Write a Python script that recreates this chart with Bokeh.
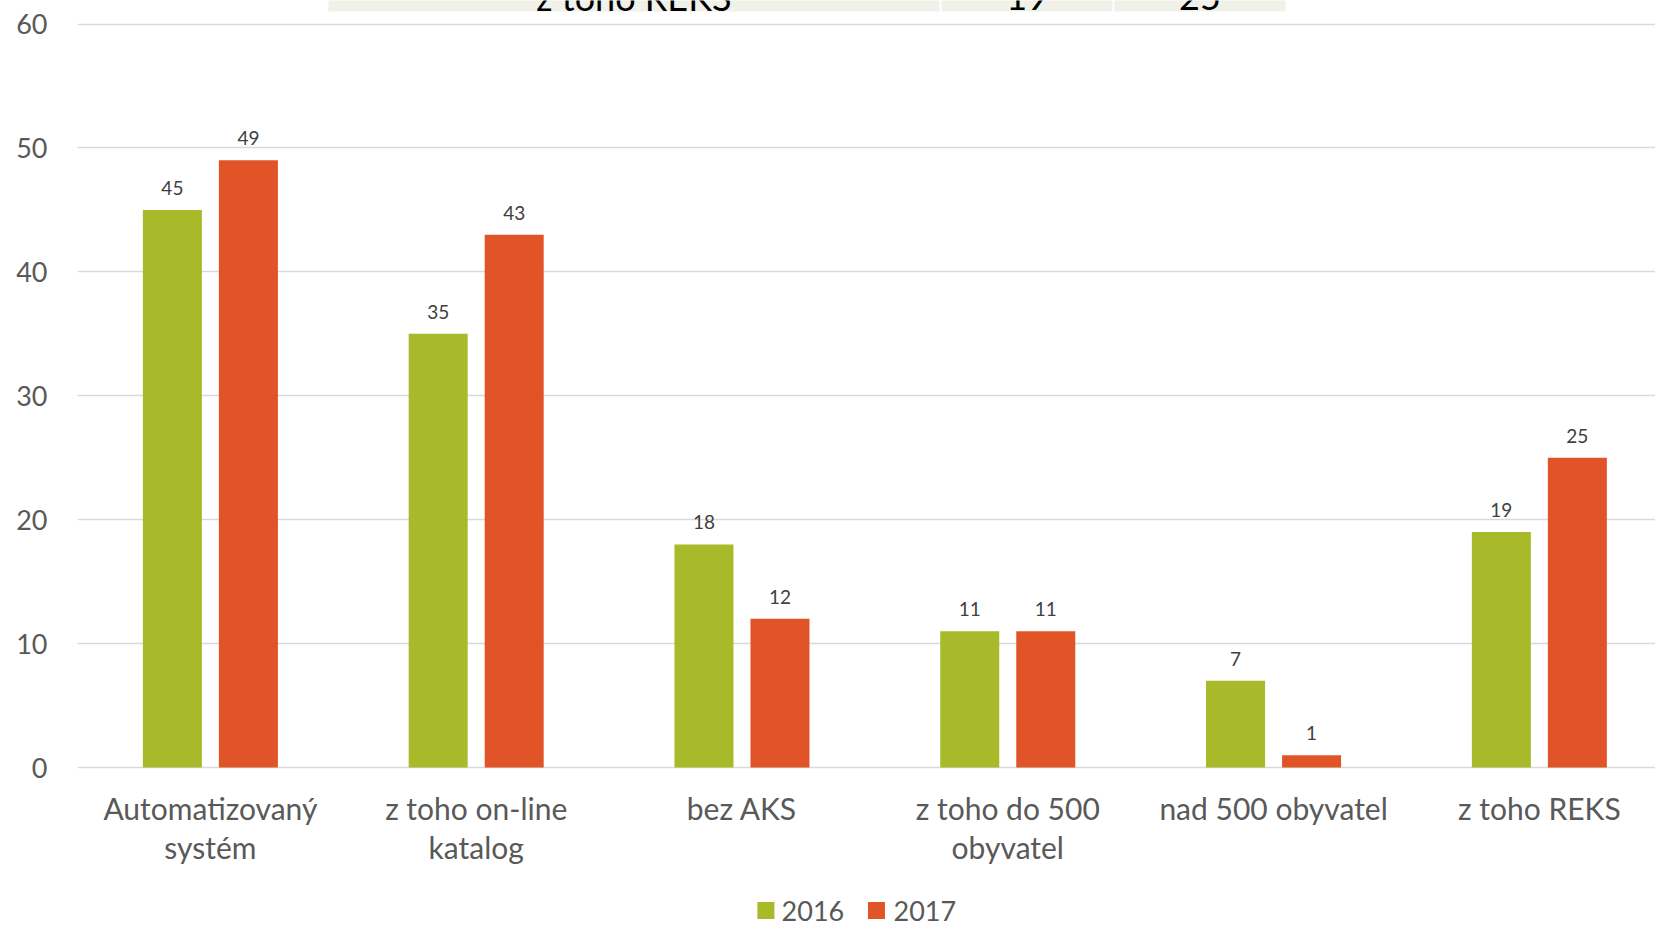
from bokeh.plotting import figure
from bokeh.models import ColumnDataSource, Range1d, FixedTicker
from bokeh.core.properties import value
from bokeh.embed import file_html
from bokeh.resources import INLINE

# ---- data ----
categories = ["Automatizovaný systém", "z toho on-line katalog", "bez AKS",
              "z toho do 500 obyvatel", "nad 500 obyvatel", "z toho REKS"]
category_labels = ["Automatizovaný\nsystém", "z toho on-line\nkatalog", "bez AKS",
                   "z toho do 500\nobyvatel", "nad 500 obyvatel", "z toho REKS"]
values_2016 = [45, 35, 18, 11, 7, 19]
values_2017 = [49, 43, 12, 11, 1, 25]
series_names = ["2016", "2017"]
y_ticks = [0, 10, 20, 30, 40, 50, 60]
# remnant of a table overlapping the top edge of the chart
table_texts = ["z toho REKS", "19", "25"]

# ---- styling / layout ----
GREEN = "#A8B92A"
RED = "#E05427"
SERIES_COLORS = [GREEN, RED]
FONT = "Lato"
LABEL_COLOR = "#595959"
OFFSET = 0.143
BAR_W = 0.222
Y_TOP = 61.9
Y_BOTTOM = -12.91

centers = [i + 0.5 for i in range(len(categories))]
x16 = [c - OFFSET for c in centers]
x17 = [c + OFFSET for c in centers]

src16 = ColumnDataSource(dict(x=x16, top=values_2016, lab=[str(v) for v in values_2016]))
src17 = ColumnDataSource(dict(x=x17, top=values_2017, lab=[str(v) for v in values_2017]))

p = figure(width=1655, height=927, output_backend="svg", toolbar_location=None,
           x_range=Range1d(0, 5.937), y_range=Range1d(Y_BOTTOM, Y_TOP),
           x_axis_location=None,
           min_border_left=77, min_border_right=0, min_border_top=0, min_border_bottom=0)
p.outline_line_color = None
p.background_fill_color = "white"
p.border_fill_color = "white"

# table remnant cells at the top edge
cell_left = [0.944, 3.251, 3.901]
cell_right = [3.243, 3.894, 4.545]
cells = ColumnDataSource(dict(left=cell_left, right=cell_right,
                              top=[Y_TOP + 1] * 3, bottom=[61.01] * 3,
                              xc=[(a + b) / 2 for a, b in zip(cell_left, cell_right)],
                              y=[61.13] * 3, txt=table_texts))
p.quad(left="left", right="right", top="top", bottom="bottom", source=cells,
       fill_color="#F0F1E8", line_color=None)
p.text(x="xc", y="y", text="txt", source=cells, text_font=value(FONT),
       text_font_size="36px", text_color="black", text_align="center",
       text_baseline="alphabetic", y_offset=-13)

# bars
p.vbar(x="x", top="top", width=BAR_W, source=src16, fill_color=GREEN, line_color=None)
p.vbar(x="x", top="top", width=BAR_W, source=src17, fill_color=RED, line_color=None)

for s in (src16, src17):
    p.text(x="x", y="top", text="lab", source=s, text_font=value(FONT),
           text_font_size="19px", text_color="#404040", text_align="center",
           text_baseline="middle", y_offset=-22)

# category labels (two lines each at most)
line1 = [l.split("\n")[0] for l in category_labels]
line2 = [l.split("\n")[1] if "\n" in l else "" for l in category_labels]
cat_src = ColumnDataSource(dict(x=centers, y=[0] * len(centers), l1=line1, l2=line2))
p.text(x="x", y="y", text="l1", source=cat_src, text_font=value(FONT),
       text_font_size="30px", text_color=LABEL_COLOR, text_align="center",
       text_baseline="middle", y_offset=40)
p.text(x="x", y="y", text="l2", source=cat_src, text_font=value(FONT),
       text_font_size="30px", text_color=LABEL_COLOR, text_align="center",
       text_baseline="middle", y_offset=79)

# legend (drawn below the categories)
LEG_Y = -11.54
leg_src = ColumnDataSource(dict(sx=[2.590, 3.006], tx=[2.649, 3.070], y=[LEG_Y] * 2,
                                name=series_names, color=SERIES_COLORS))
p.rect(x="sx", y="y", width=17, height=17, width_units="screen", height_units="screen",
       source=leg_src, fill_color="color", line_color=None)
p.text(x="tx", y="y", text="name", source=leg_src, text_font=value(FONT),
       text_font_size="27px", text_color=LABEL_COLOR, text_align="left",
       text_baseline="middle")

# y axis
p.yaxis.ticker = FixedTicker(ticks=y_ticks)
p.yaxis.major_label_text_font = FONT
p.yaxis.major_label_text_font_size = "27px"
p.yaxis.major_label_text_color = LABEL_COLOR
p.yaxis.major_label_standoff = 24
p.yaxis.axis_line_color = None
p.yaxis.major_tick_line_color = None
p.yaxis.minor_tick_line_color = None

p.xgrid.grid_line_color = None
p.ygrid.ticker = FixedTicker(ticks=y_ticks)
p.ygrid.grid_line_color = "#D9D9D9"
p.ygrid.grid_line_width = 1.5

open("out.html", "w").write(file_html(p, INLINE))
